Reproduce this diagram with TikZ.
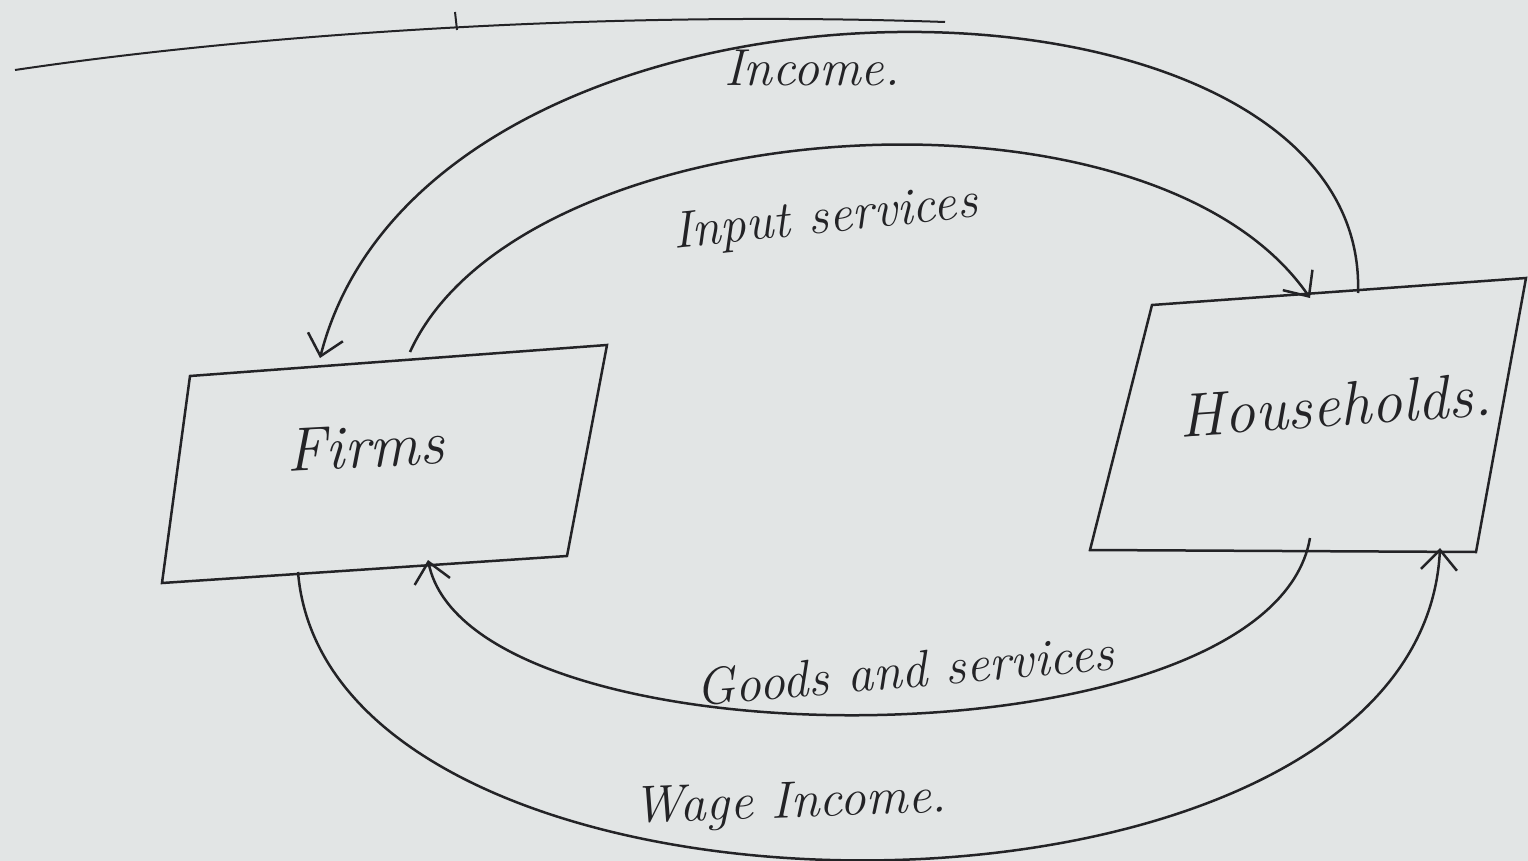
\documentclass[tikz,border=0pt]{standalone}
\usepackage{tikz}
\usetikzlibrary{arrows.meta}
\definecolor{paper}{RGB}{226,229,229}
\definecolor{ink}{RGB}{35,35,38}

\begin{document}
\begin{tikzpicture}[x=1pt,y=-1pt,
  sector/.style={inner sep=0pt,text=ink,
    font=\fontsize{62}{72}\selectfont\itshape},
  flowlabel/.style={inner sep=0pt,text=ink,
    font=\fontsize{52}{62}\selectfont\itshape},
  flow/.style={ink,line width=2.5pt,
    -{Straight Barb[length=20pt,width=36pt]}}]
\useasboundingbox (0,0) rectangle (1528,861);
\fill[paper] (0,0) rectangle (1528,861);
% stray line at the top
\draw[ink,line width=2pt] (15,70) .. controls (250,35) and (600,10) .. (945,22);
\draw[ink,line width=2pt] (455,12) -- (457,30);
% the two sectors
\node[sector,rotate=3] (firms) at (365,447) {Firms};
\node[sector,rotate=4] (households) at (1335,405) {Households.};
\draw[ink,line width=2.5pt] (190,376) -- (607,345) -- (567,556) -- (162,583) -- cycle;
\draw[ink,line width=2.5pt] (1152,305) -- (1526,278) -- (1476,552) -- (1090,550) -- cycle;
% ends of the flows on the boxes
\coordinate (ft1) at (320,358);
\coordinate (ft2) at (410,352);
\coordinate (fb1) at (298,572);
\coordinate (fb2) at (428,560);
\coordinate (ht1) at (1310,298);
\coordinate (ht2) at (1358,293);
\coordinate (hb1) at (1310,538);
\coordinate (hb2) at (1440,548);
% flows
\draw[flow] (ht2) .. controls (1370,-60) and (430,-70) .. (ft1);
\draw[flow] (ft2) .. controls (520,110) and (1150,65) .. (ht1);
\draw[flow] (hb1) .. controls (1270,770) and (470,770) .. (fb2);
\draw[flow] (fb1) .. controls (330,960) and (1420,960) .. (hb2);
\node[flowlabel] (income) at (812,68) {Income.};
\node[flowlabel,rotate=6] (input) at (825,220) {Input services};
\node[flowlabel,rotate=5] (goods) at (905,670) {Goods and services};
\node[flowlabel,rotate=2] (wage) at (790,805) {Wage Income.};
\end{tikzpicture}
\end{document}
